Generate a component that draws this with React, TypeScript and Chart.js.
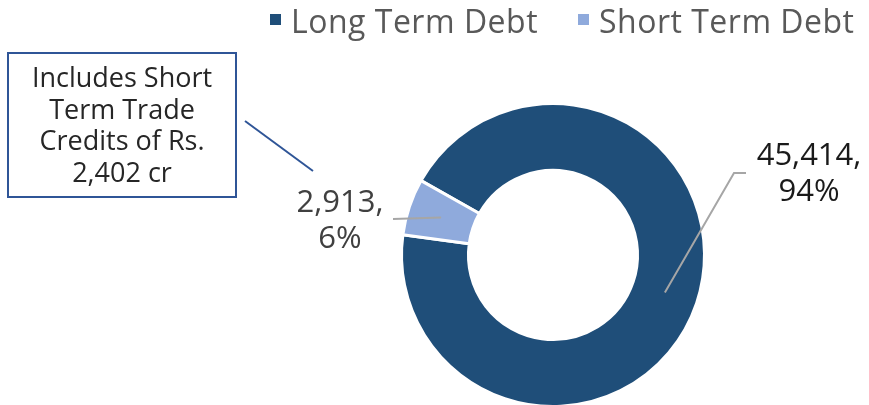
import React, { useEffect, useRef } from "react";
import { Chart, registerables } from "chart.js";

Chart.register(...registerables);

const categories = ["Long Term Debt", "Short Term Debt"];
const values = [45414, 2913];
const colors = ["#1F4E79", "#8FAADC"];
const calloutLines = ["Includes Short", "Term Trade", "Credits of Rs.", "2,402 cr"];

const FONT = "'Open Sans', 'Noto Sans', sans-serif";

const overlayPlugin = {
  id: "overlay",
  afterDraw(chart: any) {
    const ctx = chart.ctx as CanvasRenderingContext2D;
    const meta = chart.getDatasetMeta(0);
    const total = values.reduce((a, b) => a + b, 0);
    ctx.save();

    // Legend
    ctx.font = `32px ${FONT}`;
    (ctx as any).letterSpacing = "0.5px";
    ctx.textBaseline = "alphabetic";
    ctx.textAlign = "left";
    const legendX = [270, 578];
    categories.forEach((c, i) => {
      ctx.fillStyle = colors[i];
      ctx.fillRect(legendX[i], 14, 11, 11);
      ctx.fillStyle = "#595959";
      ctx.fillText(c, legendX[i] + 21, 33);
    });
    (ctx as any).letterSpacing = "0px";

    // Data labels with leader lines
    const labelPos = [
      { x: 809, y: 165, lead: [[734, 173], [746, 173]] },
      { x: 340, y: 212, lead: [[393, 219]] },
    ];
    const labelColors = ["#1A1A1A", "#404040"];
    meta.data.forEach((arc: any, i: number) => {
      const c = arc.getCenterPoint();
      const lp = labelPos[i];
      ctx.strokeStyle = "#A6A6A6";
      ctx.lineWidth = 2;
      ctx.beginPath();
      ctx.moveTo(c.x, c.y);
      lp.lead.forEach((p) => ctx.lineTo(p[0], p[1]));
      ctx.stroke();
      const pct = Math.round((values[i] / total) * 100);
      ctx.font = `31px ${FONT}`;
      ctx.textAlign = "center";
      ctx.fillStyle = labelColors[i];
      ctx.fillText(values[i].toLocaleString("en-US") + ",", lp.x, lp.y);
      ctx.fillText(pct + "%", lp.x, lp.y + 36);
    });

    // Callout box
    ctx.strokeStyle = "#2F5597";
    ctx.lineWidth = 2;
    ctx.strokeRect(8, 53, 228, 144);
    ctx.beginPath();
    ctx.moveTo(245, 121);
    ctx.lineTo(313, 171);
    ctx.stroke();
    ctx.font = `27px ${FONT}`;
    ctx.fillStyle = "#262626";
    ctx.textAlign = "center";
    calloutLines.forEach((t, i) => {
      ctx.fillText(t, 122, 87 + i * 31.7);
    });

    ctx.restore();
  },
};

export default function App() {
  const ref = useRef<HTMLCanvasElement>(null);
  useEffect(() => {
    if (!ref.current) return;
    const chart = new Chart(ref.current, {
      type: "doughnut",
      data: {
        labels: categories,
        datasets: [
          {
            data: values,
            backgroundColor: colors,
            borderColor: "#FFFFFF",
            borderWidth: 3,
            hoverOffset: 0,
            offset: 0,
          },
        ],
      },
      options: {
        responsive: false,
        animation: false,
        rotation: -60.6,
        cutout: "55.8%",
        layout: { padding: { top: 102, bottom: 2, left: 400, right: 163 } },
        plugins: { legend: { display: false }, tooltip: { enabled: false } },
        events: [],
      },
      plugins: [overlayPlugin],
    });
    return () => chart.destroy();
  }, []);
  return (
    <div style={{ position: "fixed", left: 0, top: 0, width: 869, height: 405, overflow: "hidden", background: "#fff" }}>
      <canvas ref={ref} width={869} height={410} style={{ width: 869, height: 410, display: "block" }} />
    </div>
  );
}
